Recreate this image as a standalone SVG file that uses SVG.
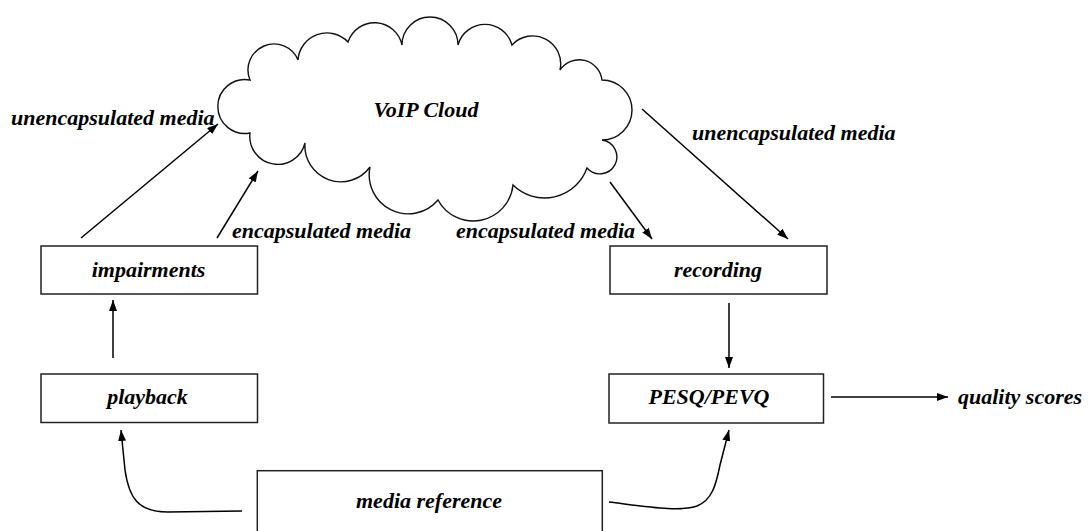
<svg xmlns="http://www.w3.org/2000/svg" width="1090" height="531" viewBox="0 0 1090 531">
<style>
.box{fill:#fff;stroke:#222;stroke-width:1.5}
.cloud{fill:#fff;stroke:#111;stroke-width:1.4}
.t{font-family:"Liberation Serif","Times New Roman",serif;font-size:22px;font-weight:bold;font-style:italic;fill:#000}
.m{text-anchor:middle}
.c{fill:none;stroke:#000;stroke-width:1.5}
</style>
<defs>
<marker id="ah" markerUnits="userSpaceOnUse" markerWidth="12" markerHeight="8" refX="11" refY="4" orient="auto">
<path d="M0,0 L11,4 L0,8 z" fill="#000"/>
</marker>
</defs>
<rect width="1090" height="531" fill="#fff"/>
<g id="cloud">
<path class="cloud" d="M250,133 A27,27 0 1 1 250,80 A26,26 0 0 1 298,60 A29,29 0 0 1 348,42 A28,28 0 0 1 402,45 A28,28 0 0 1 458,45 A28,28 0 0 1 512,45 A28,28 0 0 1 560,70 A23,23 0 0 1 602,80 A30,30 0 1 1 602,140 A17,17 0 1 1 587,168 A45,45 0 0 1 513,185 A40,40 0 0 1 438,200 A39,39 0 0 1 370,167 A36,36 0 0 1 305,143 A28,28 0 0 1 250,133 Z"/>
<text class="t m" x="426" y="117">VoIP Cloud</text>
</g>
<g id="impairments">
<rect class="box" x="41" y="246" width="216.5" height="48"/>
<text class="t m" x="148.5" y="277">impairments</text>
</g>
<g id="playback">
<rect class="box" x="41" y="374" width="216.5" height="48.5"/>
<text class="t m" x="147.5" y="404">playback</text>
</g>
<g id="recording">
<rect class="box" x="610" y="246" width="217" height="48"/>
<text class="t m" x="718" y="277">recording</text>
</g>
<g id="pesq">
<rect class="box" x="609" y="374" width="214.5" height="49"/>
<text class="t m" x="709" y="404">PESQ/PEVQ</text>
</g>
<g id="media-reference">
<rect class="box" x="257.3" y="470.7" width="345" height="70"/>
<text class="t m" x="429" y="508">media reference</text>
</g>
<g id="labels">
<text class="t" x="11" y="125">unencapsulated media</text>
<text class="t" x="232" y="238">encapsulated media</text>
<text class="t" x="456" y="238">encapsulated media</text>
<text class="t" x="692" y="140">unencapsulated media</text>
<text class="t" x="958" y="404">quality scores</text>
</g>
<g id="connectors">
<line class="c" x1="113" y1="358" x2="113" y2="300" marker-end="url(#ah)"/>
<path class="c" d="M242,511 L168,512 C138,512 129,498 125,470 L121,430" marker-end="url(#ah)"/>
<path class="c" d="M609,502 C650,507 680,512 697,506 C712,500 716,485 720,465 L729,430" marker-end="url(#ah)"/>
<line class="c" x1="729" y1="303" x2="729" y2="368" marker-end="url(#ah)"/>
<line class="c" x1="831" y1="397" x2="948" y2="397" marker-end="url(#ah)"/>
<line class="c" x1="81" y1="238" x2="218" y2="124" marker-end="url(#ah)"/>
<line class="c" x1="217" y1="238" x2="258" y2="171" marker-end="url(#ah)"/>
<line class="c" x1="610" y1="182" x2="652" y2="239" marker-end="url(#ah)"/>
<line class="c" x1="642" y1="109" x2="788" y2="239" marker-end="url(#ah)"/>
</g>
</svg>
